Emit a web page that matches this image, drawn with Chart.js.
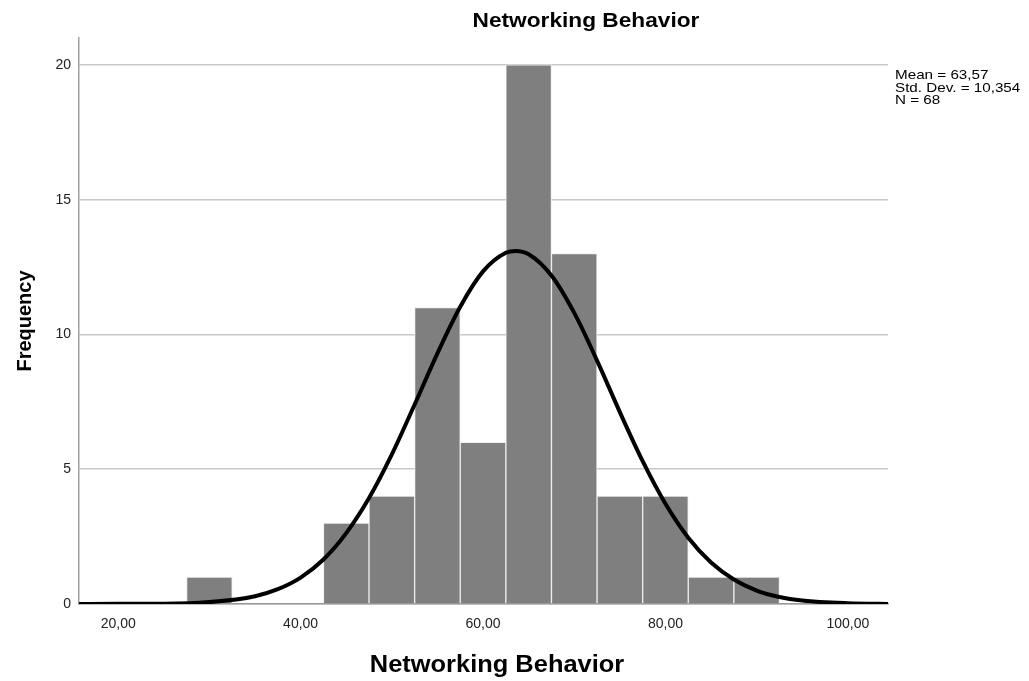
<!DOCTYPE html>
<html>
<head>
<meta charset="utf-8">
<title>Networking Behavior</title>
<script src="https://cdn.jsdelivr.net/npm/chart.js@4.4.1/dist/chart.umd.min.js"></script>
<style>
  html, body { margin: 0; padding: 0; background: #fff; }
</style>
</head>
<body>
<canvas id="gr1" width="1029" height="681"></canvas>
<script>
// histogram bins (bin centres, width 5) and counts
const binCenters = [30, 45, 50, 55, 60, 65, 70, 75, 80, 85, 90];
const binCounts  = [1, 3, 4, 11, 6, 20, 13, 4, 4, 1, 1];

// normal curve
const curveX = [15, 20, 25, 30, 35, 37.5, 40, 42.5, 45, 47.5, 50, 52.5, 55, 57.5, 60, 62.5, 63.6, 65, 67.5, 70, 72.5, 75, 77.5, 80, 82.5, 85, 87.5, 90, 92.5, 95, 100, 105];
const curveY = [0, 0.01, 0.01, 0.07, 0.29, 0.55, 0.98, 1.65, 2.63, 3.93, 5.55, 7.4, 9.3, 11.03, 12.34, 13.03, 13.1, 12.98, 12.19, 10.8, 9.03, 7.12, 5.3, 3.72, 2.46, 1.54, 0.91, 0.5, 0.26, 0.13, 0.03, 0];

const xTicks = [20, 40, 60, 80, 100];
const yTicks = [0, 5, 10, 15, 20];

const chartTitle = 'Networking Behavior';
const xTitle = 'Networking Behavior';
const yTitle = 'Frequency';
const statLines = ['Mean = 63,57', 'Std. Dev. = 10,354', 'N = 68'];

const FONT = '"Liberation Sans", Arial, sans-serif';

// draws text slightly widened, like the SPSS export
function wideText(ctx, txt, x, y, sx) {
  ctx.save();
  ctx.translate(x, y);
  ctx.scale(sx, 1);
  ctx.fillText(txt, 0, 0);
  ctx.restore();
}

const textPlugin = {
  id: 'spssText',
  afterDraw(chart) {
    const ctx = chart.ctx;
    ctx.save();
    ctx.fillStyle = '#000';
    ctx.textBaseline = 'alphabetic';
    ctx.textAlign = 'center';
    ctx.font = 'bold 21px ' + FONT;
    wideText(ctx, chartTitle, 586, 27, 1.08);
    ctx.font = 'bold 24px ' + FONT;
    wideText(ctx, xTitle, 497, 672, 1.06);
    ctx.textAlign = 'left';
    ctx.font = '13px ' + FONT;
    statLines.forEach((s, i) => wideText(ctx, s, 895, 79 + i * 12.5, 1.17));
    ctx.restore();
  }
};

const config = {
  type: 'bar',
  data: {
    datasets: [
      {
        type: 'line',
        label: 'Normal',
        data: curveX.map((x, i) => ({ x: x, y: curveY[i] })),
        borderColor: '#000',
        borderWidth: 4,
        pointRadius: 0,
        fill: false,
        cubicInterpolationMode: 'monotone',
        order: 0
      },
      {
        type: 'bar',
        label: 'Frequency',
        data: binCenters.map((x, i) => ({ x: x, y: binCounts[i] })),
        backgroundColor: '#7f7f7f',
        borderColor: '#eeeeee',
        borderWidth: 1,
        barPercentage: 1,
        categoryPercentage: 1,
        order: 1
      }
    ]
  },
  options: {
    responsive: false,
    animation: false,
    events: [],
    layout: { padding: { left: 0, right: 141, top: 38, bottom: 0 } },
    scales: {
      x: {
        type: 'linear',
        offset: false,
        min: 15.7,
        max: 104.4,
        afterFit: (s) => { s.height = 77; },
        afterBuildTicks: (s) => { s.ticks = xTicks.map(v => ({ value: v })); },
        grid: { display: false, drawTicks: false, offset: false },
        border: { display: true, color: '#9a9a9a', width: 1.5 },
        ticks: {
          padding: 12,
          color: '#222',
          font: { family: FONT, size: 14 },
          maxRotation: 0,
          callback: (v) => v.toFixed(2).replace('.', ',')
        }
      },
      y: {
        type: 'linear',
        min: 0,
        max: 21,
        afterFit: (s) => { s.width = 79; },
        afterBuildTicks: (s) => { s.ticks = yTicks.map(v => ({ value: v })); },
        grid: { color: '#c8c8c8', lineWidth: 1.5, drawTicks: false },
        border: { display: true, color: '#a0a0a0', width: 1.5 },
        ticks: {
          padding: 8,
          color: '#222',
          font: { family: FONT, size: 14 }
        },
        title: {
          display: true,
          text: yTitle,
          color: '#000',
          padding: { top: 13, bottom: 0 },
          font: { family: FONT, size: 20, weight: 'bold' }
        }
      }
    },
    plugins: {
      legend: { display: false },
      tooltip: { enabled: false },
      title: { display: false }
    }
  },
  plugins: [textPlugin]
};

const ctx = document.getElementById('gr1').getContext('2d');
const graph1 = new Chart(ctx, config);
</script>
</body>
</html>
